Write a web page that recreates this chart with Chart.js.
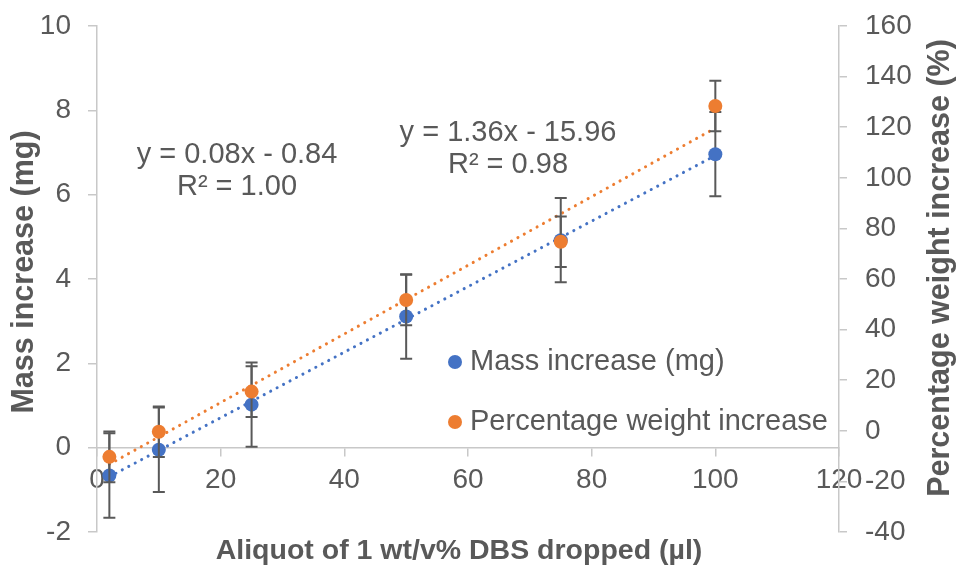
<!DOCTYPE html>
<html>
<head>
<meta charset="utf-8">
<script src="https://cdn.jsdelivr.net/npm/chart.js@4.4.1/dist/chart.umd.min.js"></script>
<style>
  html, body { margin: 0; padding: 0; background: #ffffff; }
  canvas { display: block; }
</style>
</head>
<body>
<canvas id="chart" width="958" height="567"></canvas>
<script>
// Aliquot volumes (µl) and the measured responses
const aliquotUl = [2, 10, 25, 50, 75, 100];
const massIncreaseMg = [-0.66, -0.05, 1.02, 3.11, 4.92, 6.96];
const massErrorMg = [1, 1, 1, 1, 1, 1];
const weightIncreasePct = [-10.3, -0.4, 15.5, 51.7, 74.7, 128.4];
const weightErrorPct = [10, 10, 10, 10, 10, 10];

// Axis tick values
const xTickValues = [0, 20, 40, 60, 80, 100, 120];
const massTickValues = [-2, 0, 2, 4, 6, 8, 10];
const pctTickValues = [-40, -20, 0, 20, 40, 60, 80, 100, 120, 140, 160];

const BLUE = '#4472C4';
const ORANGE = '#ED7D31';
const TEXT = '#595959';
const AXIS = '#c8c8c8';
const FONT = "'Liberation Sans', Arial, Helvetica, sans-serif";

// Ordinary least-squares fit with coefficient of determination
function linearFit(xs, ys) {
  const n = xs.length;
  const mx = xs.reduce((a, b) => a + b, 0) / n;
  const my = ys.reduce((a, b) => a + b, 0) / n;
  let sxx = 0, sxy = 0, syy = 0;
  for (let i = 0; i < n; i++) {
    const dx = xs[i] - mx, dy = ys[i] - my;
    sxx += dx * dx; sxy += dx * dy; syy += dy * dy;
  }
  const slope = sxy / sxx;
  return { slope, intercept: my - slope * mx, r2: (sxy * sxy) / (sxx * syy) };
}

function equationText(fit) {
  const sign = fit.intercept < 0 ? '-' : '+';
  return 'y = ' + fit.slope.toFixed(2) + 'x ' + sign + ' ' + Math.abs(fit.intercept).toFixed(2);
}

function trendPoints(xs, fit) {
  const x0 = Math.min(...xs), x1 = Math.max(...xs);
  return [
    { x: x0, y: fit.slope * x0 + fit.intercept },
    { x: x1, y: fit.slope * x1 + fit.intercept }
  ];
}

const massFit = linearFit(aliquotUl, massIncreaseMg);
const pctFit = linearFit(aliquotUl, weightIncreasePct);

const toPoints = (xs, ys) => xs.map((x, i) => ({ x, y: ys[i] }));

// Vertical error bars with end caps, drawn just beneath each series' markers
const errorBars = {
  id: 'errorBars',
  beforeDatasetDraw(chart, args) {
    const ds = chart.data.datasets[args.index];
    if (!ds.errors) return;
    const xs = chart.scales.x;
    const ys = chart.scales[ds.yAxisID];
    const ctx = chart.ctx;
    ctx.save();
    ctx.strokeStyle = TEXT;
    ctx.lineWidth = 2;
    ds.data.forEach((p, i) => {
      const px = xs.getPixelForValue(p.x);
      const top = ys.getPixelForValue(p.y + ds.errors[i]);
      const bot = ys.getPixelForValue(p.y - ds.errors[i]);
      ctx.beginPath();
      ctx.moveTo(px, top); ctx.lineTo(px, bot);
      ctx.moveTo(px - 6, top); ctx.lineTo(px + 6, top);
      ctx.moveTo(px - 6, bot); ctx.lineTo(px + 6, bot);
      ctx.stroke();
    });
    ctx.restore();
  }
};

// Axis titles, trendline equations and the legend
const annotations = {
  id: 'annotations',
  afterDraw(chart) {
    const ctx = chart.ctx;
    ctx.save();
    ctx.fillStyle = TEXT;
    ctx.textAlign = 'center';
    ctx.textBaseline = 'middle';

    ctx.font = 'bold 28.5px ' + FONT;
    ctx.fillText('Aliquot of 1 wt/v% DBS dropped (µl)', 459, 551);
    ctx.font = 'bold 30.5px ' + FONT;
    ctx.save();
    ctx.translate(25, 272);
    ctx.rotate(-Math.PI / 2);
    ctx.fillText('Mass increase (mg)', 0, 0);
    ctx.restore();
    ctx.save();
    ctx.translate(941, 268);
    ctx.rotate(-Math.PI / 2);
    ctx.fillText('Percentage weight increase (%)', 0, 0);
    ctx.restore();

    ctx.font = '29px ' + FONT;
    ctx.fillText(equationText(massFit), 237, 155);
    ctx.fillText('R² = ' + massFit.r2.toFixed(2), 237, 187);
    ctx.fillText(equationText(pctFit), 508, 133);
    ctx.fillText('R² = ' + pctFit.r2.toFixed(2), 508, 165);

    const entries = [
      { label: chart.data.datasets[0].label, color: BLUE, y: 362 },
      { label: chart.data.datasets[1].label, color: ORANGE, y: 422 }
    ];
    ctx.textAlign = 'left';
    entries.forEach(e => {
      ctx.fillStyle = e.color;
      ctx.beginPath();
      ctx.arc(455, e.y, 7, 0, Math.PI * 2);
      ctx.fill();
      ctx.fillStyle = TEXT;
      ctx.fillText(e.label, 470, e.y);
    });
    ctx.restore();
  }
};

const tickFont = { family: FONT, size: 28 };

// Fixed box sizes so the plot area sits at a known place
function fixVertical(width) {
  return s => {
    s.width = width;
    s.paddingTop = 0;
    s.paddingBottom = 0;
  };
}

new Chart(document.getElementById('chart'), {
  type: 'scatter',
  data: {
    datasets: [
      {
        label: 'Mass increase (mg)',
        data: toPoints(aliquotUl, massIncreaseMg),
        errors: massErrorMg,
        yAxisID: 'y',
        backgroundColor: BLUE,
        borderWidth: 0,
        pointRadius: 7,
        order: 2
      },
      {
        label: 'Percentage weight increase',
        data: toPoints(aliquotUl, weightIncreasePct),
        errors: weightErrorPct,
        yAxisID: 'y1',
        backgroundColor: ORANGE,
        borderWidth: 0,
        pointRadius: 7,
        order: 1
      },
      {
        label: 'Linear (Mass increase (mg))',
        data: trendPoints(aliquotUl, massFit),
        yAxisID: 'y',
        showLine: true,
        borderColor: BLUE,
        borderWidth: 3,
        borderDash: [0.1, 7.2],
        borderCapStyle: 'round',
        pointRadius: 0,
        order: 4
      },
      {
        label: 'Linear (Percentage weight increase)',
        data: trendPoints(aliquotUl, pctFit),
        yAxisID: 'y1',
        showLine: true,
        borderColor: ORANGE,
        borderWidth: 3,
        borderDash: [0.1, 7.2],
        borderCapStyle: 'round',
        pointRadius: 0,
        order: 3
      }
    ]
  },
  options: {
    responsive: false,
    animation: false,
    layout: { padding: { top: 26, bottom: 35, left: 0, right: 0 } },
    plugins: {
      legend: { display: false },
      tooltip: { enabled: false }
    },
    scales: {
      x: {
        type: 'linear',
        position: { y: 0 },
        min: 0,
        max: 120,
        afterBuildTicks: s => { s.ticks = xTickValues.map(v => ({ value: v })); },
        ticks: { autoSkip: false, maxRotation: 0, color: TEXT, font: tickFont, padding: 8 },
        grid: { drawOnChartArea: false, drawTicks: true, tickLength: 8, color: AXIS, lineWidth: 1.5 },
        border: { color: AXIS, width: 1.5 }
      },
      y: {
        type: 'linear',
        position: 'left',
        min: -2,
        max: 10,
        afterBuildTicks: s => { s.ticks = massTickValues.map(v => ({ value: v })); },
        afterFit: fixVertical(97),
        ticks: { color: TEXT, font: tickFont, padding: 17 },
        grid: { drawOnChartArea: false, drawTicks: true, tickLength: 9, color: AXIS, lineWidth: 1.5 },
        border: { color: AXIS, width: 1.5 }
      },
      y1: {
        type: 'linear',
        position: 'right',
        min: -40,
        max: 160,
        afterBuildTicks: s => { s.ticks = pctTickValues.map(v => ({ value: v })); },
        afterFit: fixVertical(119),
        ticks: { color: TEXT, font: tickFont, padding: 18 },
        grid: { drawOnChartArea: false, drawTicks: true, tickLength: 8, color: AXIS, lineWidth: 1.5 },
        border: { color: AXIS, width: 1.5 }
      }
    }
  },
  plugins: [errorBars, annotations]
});
</script>
</body>
</html>
